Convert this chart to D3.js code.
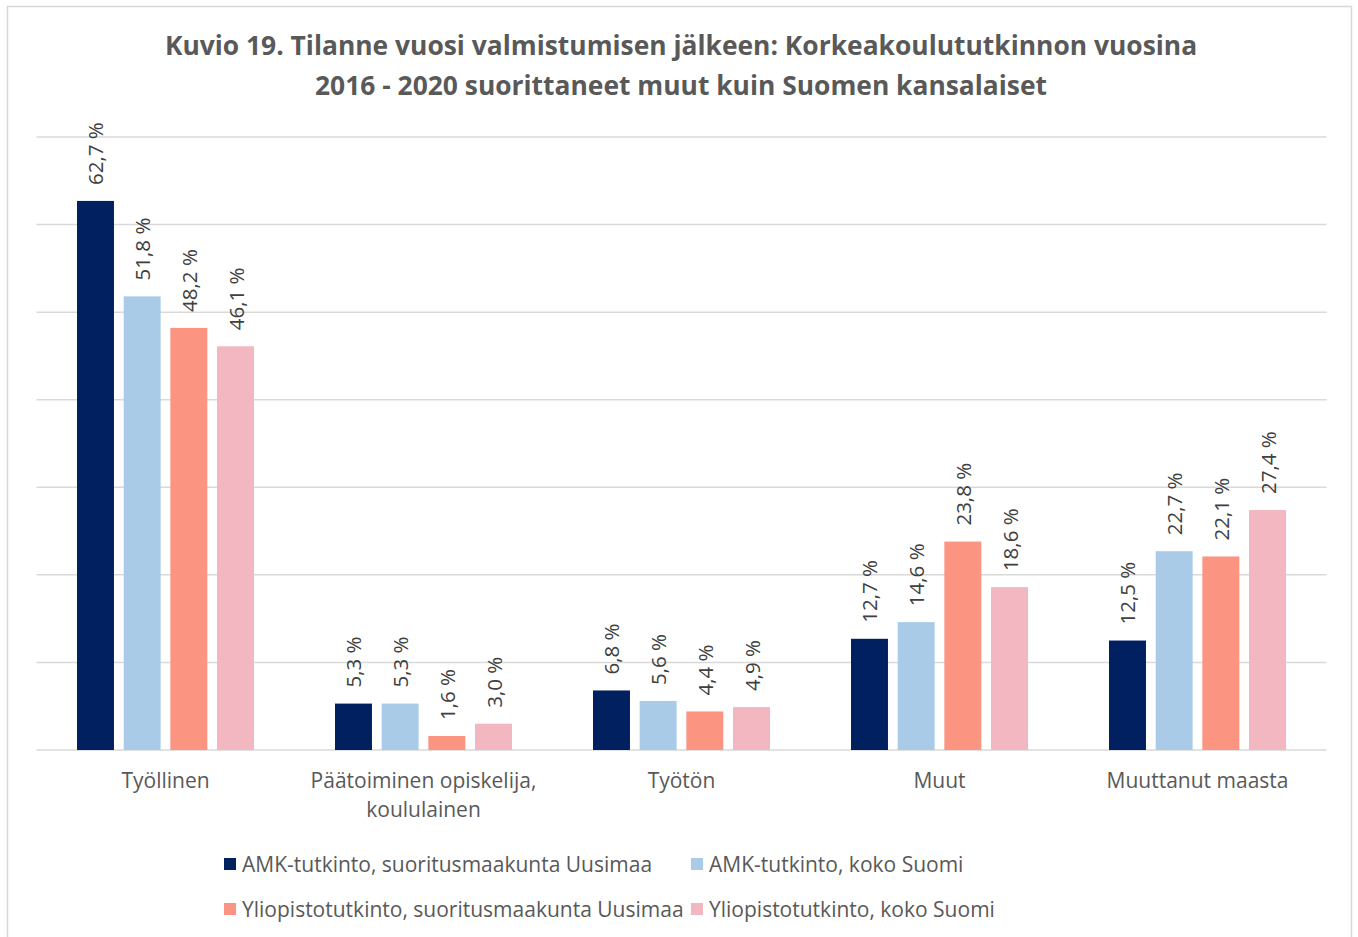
<!DOCTYPE html>
<html>
<head>
<meta charset="utf-8">
<script src="https://cdn.jsdelivr.net/npm/d3@7"></script>
<style>
  html, body { margin: 0; padding: 0; background: #fff; }
  svg { display: block; }
  text { font-family: "Open Sans", Lato, sans-serif; }
</style>
</head>
<body>
<svg id="chart" width="1358" height="937"></svg>
<script>
const titleLines = [
  "Kuvio 19. Tilanne vuosi valmistumisen jälkeen: Korkeakoulututkinnon vuosina",
  "2016 - 2020 suorittaneet muut kuin Suomen kansalaiset"
];
const categories = ["Työllinen", "Päätoiminen opiskelija, koululainen", "Työtön", "Muut", "Muuttanut maasta"];
const categoryLines = [["Työllinen"], ["Päätoiminen opiskelija,", "koululainen"], ["Työtön"], ["Muut"], ["Muuttanut maasta"]];
const seriesNames = [
  "AMK-tutkinto, suoritusmaakunta Uusimaa",
  "AMK-tutkinto, koko Suomi",
  "Yliopistotutkinto, suoritusmaakunta Uusimaa",
  "Yliopistotutkinto, koko Suomi"
];
const amkUusimaa = [62.7, 5.3, 6.8, 12.7, 12.5];
const amkSuomi = [51.8, 5.3, 5.6, 14.6, 22.7];
const yoUusimaa = [48.2, 1.6, 4.4, 23.8, 22.1];
const yoSuomi = [46.1, 3.0, 4.9, 18.6, 27.4];
const seriesValues = [amkUusimaa, amkSuomi, yoUusimaa, yoSuomi];
const colors = ["#002060", "#A9CBE8", "#FC9482", "#F2B7C0"];
const yTicks = [0, 10, 20, 30, 40, 50, 60, 70];

const svg = d3.select("#chart");

// outer border
svg.append("rect").attr("x", 7.5).attr("y", 6.5).attr("width", 1344).attr("height", 940)
  .attr("fill", "#fff").attr("stroke", "#d9d9d9").attr("stroke-width", 1.5);

const x = d3.scaleBand().domain(categories).range([36.5, 1326.5]).paddingInner(0).paddingOuter(0);
const xInner = d3.scaleBand().domain(seriesNames).range([40.5, 217.5]).paddingInner(0.208).paddingOuter(0);
const y = d3.scaleLinear().domain([0, 70]).range([750, 137]);

// gridlines
svg.append("g").selectAll("line").data(yTicks).join("line")
  .attr("x1", 36.5).attr("x2", 1326.5)
  .attr("y1", d => y(d)).attr("y2", d => y(d))
  .attr("stroke", "#d9d9d9").attr("stroke-width", 1.5);

// title
svg.append("g").selectAll("text").data(titleLines).join("text")
  .attr("x", 681).attr("y", (d, i) => 55 + i * 40)
  .attr("text-anchor", "middle")
  .attr("font-size", 26.4).attr("font-weight", "bold").attr("fill", "#595959")
  .text(d => d);

// bars
const data = [];
categories.forEach((c, ci) => {
  seriesNames.forEach((s, si) => {
    data.push({ c, s, si, v: seriesValues[si][ci] });
  });
});

const gBars = svg.append("g");
gBars.selectAll("rect").data(data).join("rect")
  .attr("x", d => x(d.c) + xInner(d.s))
  .attr("width", xInner.bandwidth())
  .attr("y", d => y(d.v))
  .attr("height", d => y(0) - y(d.v))
  .attr("fill", d => colors[d.si]);

// value labels
gBars.selectAll("text").data(data).join("text")
  .attr("transform", d => `translate(${x(d.c) + xInner(d.s) + xInner.bandwidth() / 2},${y(d.v) - 16}) rotate(-90)`)
  .attr("dominant-baseline", "central")
  .attr("text-anchor", "start")
  .attr("font-size", 20.5).attr("fill", "#404040")
  .text(d => d.v.toFixed(1).replace(".", ",") + " %");

// category labels
const gCat = svg.append("g");
categories.forEach((c, ci) => {
  const t = gCat.append("text")
    .attr("x", x(c) + x.bandwidth() / 2)
    .attr("y", 788)
    .attr("text-anchor", "middle")
    .attr("font-size", 21).attr("fill", "#595959");
  categoryLines[ci].forEach((line, li) => {
    t.append("tspan").attr("x", x(c) + x.bandwidth() / 2).attr("dy", li === 0 ? 0 : 29).text(line);
  });
});

// legend
const legendPos = [[224, 864], [691, 864], [224, 909], [691, 909]];
const gLeg = svg.append("g");
seriesNames.forEach((s, i) => {
  const [lx, ly] = legendPos[i];
  gLeg.append("rect").attr("x", lx).attr("y", ly - 6).attr("width", 12).attr("height", 12).attr("fill", colors[i]);
  gLeg.append("text").attr("x", lx + 18).attr("y", ly).attr("dominant-baseline", "central")
    .attr("font-size", 21).attr("fill", "#595959").text(s);
});
</script>
</body>
</html>
